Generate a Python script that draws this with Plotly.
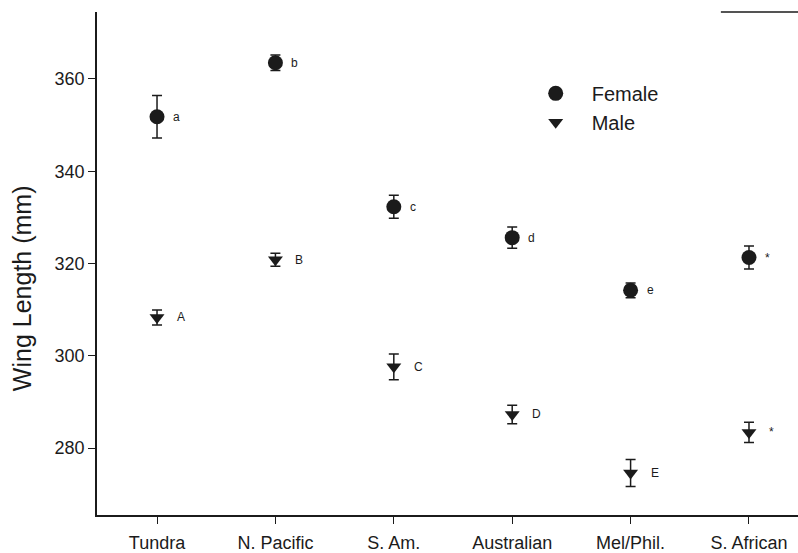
import plotly.graph_objects as go

# Mean wing length (mm) with error bars, by population and sex
populations = ["Tundra", "N. Pacific", "S. Am.", "Australian", "Mel/Phil.", "S. African"]

female_mean = [351.8, 363.5, 332.3, 325.6, 314.2, 321.3]
female_err = [4.6, 1.7, 2.5, 2.3, 1.6, 2.5]
female_letters = ["a", "b", "c", "d", "e", "*"]

male_mean = [308.3, 320.8, 297.6, 287.3, 274.6, 283.4]
male_err = [1.6, 1.4, 2.8, 2.0, 2.9, 2.2]
male_letters = ["A", "B", "C", "D", "E", "*"]

y_ticks = [280, 300, 320, 340, 360]

FONT = "Liberation Sans, Arial, Helvetica, sans-serif"
INK = "#1b1b1b"

fig = go.Figure()

fig.add_trace(go.Scatter(
    x=populations, y=female_mean, mode="markers", name="Female",
    marker=dict(symbol="circle", size=15, color=INK),
    error_y=dict(type="data", array=female_err, visible=True,
                 color=INK, thickness=1.5, width=5),
))
fig.add_trace(go.Scatter(
    x=populations, y=male_mean, mode="markers", name="Male",
    marker=dict(symbol="triangle-down", size=13, color=INK),
    error_y=dict(type="data", array=male_err, visible=True,
                 color=INK, thickness=1.5, width=5),
))

# significance letters beside each mean
for pop, val, lab in zip(populations, female_mean, female_letters):
    fig.add_annotation(x=pop, y=val, text=lab, showarrow=False,
                       xanchor="left", xshift=14,
                       font=dict(family=FONT, size=12, color=INK))
for pop, val, lab in zip(populations, male_mean, male_letters):
    fig.add_annotation(x=pop, y=val, text=lab, showarrow=False,
                       xanchor="left", xshift=18,
                       font=dict(family=FONT, size=12, color=INK))

# y-axis title, placed a little below the axis midpoint
fig.add_annotation(xref="paper", yref="paper", x=-0.107, y=0.451,
                   text="Wing Length (mm)", textangle=-90, showarrow=False,
                   xanchor="center", yanchor="middle",
                   font=dict(family=FONT, size=25, color=INK))

fig.update_layout(
    width=798, height=553,
    margin=dict(l=97, r=0, t=12, b=38),
    paper_bgcolor="white", plot_bgcolor="white",
    font=dict(family=FONT, color=INK),
    showlegend=True,
    legend=dict(x=0.603, y=0.877, xanchor="left", yanchor="top",
                bgcolor="rgba(0,0,0,0)", itemwidth=62,
                font=dict(family=FONT, size=20, color=INK),
                tracegroupgap=0, itemsizing="trace"),
    xaxis=dict(
        type="category", range=[-0.507, 5.414],
        showline=True, linecolor=INK, linewidth=1.5,
        ticks="outside", ticklen=7, tickwidth=1.2, tickcolor=INK,
        ticklabelstandoff=4,
        showgrid=False, zeroline=False,
        tickfont=dict(family=FONT, size=18, color=INK),
    ),
    yaxis=dict(
        range=[265.5, 374.5], tickvals=y_ticks,
        showline=True, linecolor=INK, linewidth=1.5,
        ticks="outside", ticklen=7, tickwidth=1.2, tickcolor=INK,
        showgrid=False, zeroline=False,
        tickfont=dict(family=FONT, size=18, color=INK),
    ),
)

# short frame segment at the top right
fig.add_shape(type="line", xref="paper", yref="paper",
              x0=0.89, x1=1.0, y0=1.0, y1=1.0,
              line=dict(color=INK, width=1.5))

fig.write_html("out.html")
